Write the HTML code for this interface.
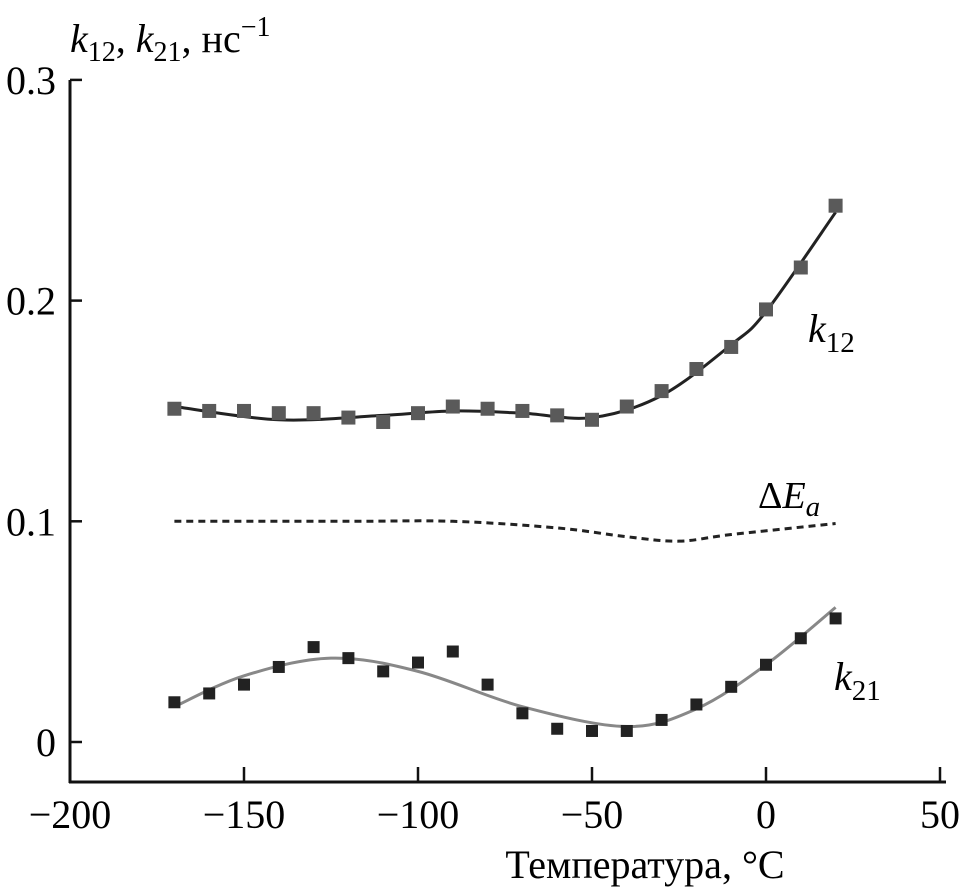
<!DOCTYPE html>
<html><head><meta charset="utf-8"><style>
body{margin:0;background:#fff}
svg{display:block;font-family:"Liberation Serif",serif}
</style></head><body>
<svg width="968" height="894" viewBox="0 0 968 894">
<g id="axes"></g>
<g id="series"></g>
<text x="70" y="52" font-size="40"><tspan font-style="italic">k</tspan><tspan font-size="28" dy="9">12</tspan><tspan dy="-9">, </tspan><tspan font-style="italic">k</tspan><tspan font-size="28" dy="9">21</tspan><tspan dy="-9">, нс</tspan><tspan font-size="28" dy="-16">−1</tspan></text>
<text x="645" y="878" font-size="40" text-anchor="middle">Температура, °C</text>
<text x="808" y="342" font-size="40"><tspan font-style="italic">k</tspan><tspan font-size="29" dy="10">12</tspan></text>
<text x="758" y="508" font-size="38">Δ<tspan font-style="italic">E</tspan><tspan font-style="italic" font-size="29" dy="8">a</tspan></text>
<text x="834" y="690" font-size="40"><tspan font-style="italic">k</tspan><tspan font-size="29" dy="10">21</tspan></text>
</svg>
<script>
const xTicks=[-200,-150,-100,-50,0,50];
const xTickLabels=["−200","−150","−100","−50","0","50"];
const yTicks=[0,0.1,0.2,0.3];
const yTickLabels=["0","0.1","0.2","0.3"];
const temps=[-170,-160,-150,-140,-130,-120,-110,-100,-90,-80,-70,-60,-50,-40,-30,-20,-10,0,10,20];
const k12=[0.151,0.150,0.150,0.149,0.149,0.147,0.145,0.149,0.152,0.151,0.150,0.148,0.146,0.152,0.159,0.169,0.179,0.196,0.215,0.243];
const k21=[0.018,0.022,0.026,0.034,0.043,0.038,0.032,0.036,0.041,0.026,0.013,0.006,0.005,0.005,0.010,0.017,0.025,0.035,0.047,0.056];
const k12FitX=[-170,-140,-110,-90,-70,-50,-30,-10,0,20];
const k12FitY=[0.152,0.146,0.148,0.150,0.149,0.147,0.157,0.180,0.195,0.240];
const k21FitX=[-170,-150,-125,-100,-70,-40,-20,0,20];
const k21FitY=[0.016,0.030,0.038,0.032,0.016,0.007,0.015,0.035,0.061];
const eaX=[-170,-120,-90,-60,-40,-25,-10,20];
const eaY=[0.100,0.100,0.100,0.097,0.093,0.091,0.094,0.099];
const NS="http://www.w3.org/2000/svg";
const X=v=>70+(v+200)*3.48;
const Y=v=>742-v*2207;
function mk(t,a,p){const e=document.createElementNS(NS,t);for(const k in a)e.setAttribute(k,a[k]);p.appendChild(e);return e;}
const ax=document.getElementById('axes'),se=document.getElementById('series');
let l=mk('line',{x1:70,y1:80,x2:70,y2:783,stroke:'#111','stroke-width':3},ax);


l=mk('line',{x1:69,y1:782,x2:946,y2:782,stroke:'#111','stroke-width':3},ax);


xTicks.forEach((v,i)=>{
 const t=mk('line',{x1:X(v),y1:782,x2:X(v),y2:767,stroke:'#111','stroke-width':2.5},ax);
 
 
 const tx=mk('text',{x:X(v),y:828,'font-size':40,'text-anchor':'middle'},ax);tx.textContent=xTickLabels[i];
 
 
});
yTicks.forEach((v,i)=>{
 const t=mk('line',{x1:70,y1:Y(v),x2:82,y2:Y(v),stroke:'#111','stroke-width':2.5},ax);
 
 
 const tx=mk('text',{x:56,y:Y(v)+14,'font-size':40,'text-anchor':'end'},ax);tx.textContent=yTickLabels[i];
 
 
});
function smooth(xs,ys){const p=xs.map((x,i)=>[X(x),Y(ys[i])]);let d='M'+p[0].join(',');
 for(let i=0;i<p.length-1;i++){const p0=p[i-1]||p[i],p1=p[i],p2=p[i+1],p3=p[i+2]||p2;
  d+=' C'+(p1[0]+(p2[0]-p0[0])/6)+','+(p1[1]+(p2[1]-p0[1])/6)+' '+(p2[0]-(p3[0]-p1[0])/6)+','+(p2[1]-(p3[1]-p1[1])/6)+' '+p2[0]+','+p2[1];}
 return d;}
l=mk('path',{d:smooth(k12FitX,k12FitY),fill:'none',stroke:'#222','stroke-width':3},se);


l=mk('path',{d:smooth(k21FitX,k21FitY),fill:'none',stroke:'#888','stroke-width':3},se);


l=mk('path',{d:smooth(eaX,eaY),fill:'none',stroke:'#222','stroke-width':3,'stroke-dasharray':'7,5'},se);


temps.forEach((t,i)=>{
 const r=mk('rect',{x:X(t)-7,y:Y(k12[i])-7,width:14,height:14,fill:'#5a5a5a'},se);
 
 
 const q=mk('rect',{x:X(t)-6,y:Y(k21[i])-6,width:12,height:12,fill:'#222'},se);
 
 
});
</script>
</body></html>
